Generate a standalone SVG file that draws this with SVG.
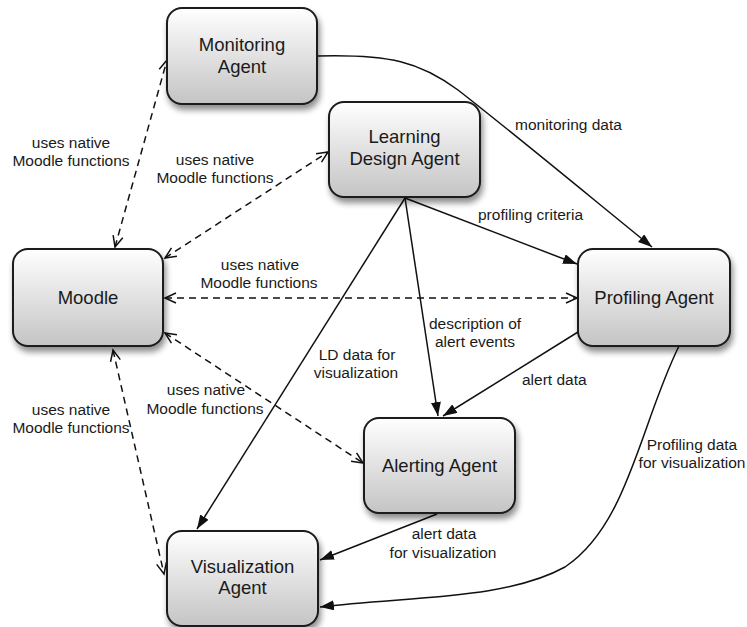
<svg xmlns="http://www.w3.org/2000/svg" width="747" height="627" viewBox="0 0 747 627">
<style>
.node rect{fill:url(#g);stroke:#1a1a1a;stroke-width:2;filter:url(#sh)}
.node text{font-family:"Liberation Sans",Arial,sans-serif;font-size:18.5px;fill:#1a1a1a;text-anchor:middle}
.lbl{font-family:"Liberation Sans",Arial,sans-serif;font-size:15.5px;fill:#1a1a1a}
.c{text-anchor:middle}
.solid{fill:none;stroke:#111;stroke-width:1.5;marker-end:url(#ah)}
.dash{fill:none;stroke:#111;stroke-width:1.5;stroke-dasharray:7 5;marker-start:url(#oa);marker-end:url(#oa)}
</style>
<defs>
<linearGradient id="g" x1="0" y1="0" x2="0" y2="1">
<stop offset="0" stop-color="#ffffff"/>
<stop offset="1" stop-color="#c4c4c4"/>
</linearGradient>
<filter id="sh" x="-20%" y="-20%" width="150%" height="160%">
<feGaussianBlur in="SourceAlpha" stdDeviation="3"/>
<feOffset dx="2" dy="5" result="b"/>
<feComponentTransfer><feFuncA type="linear" slope="0.45"/></feComponentTransfer>
<feMerge><feMergeNode/><feMergeNode in="SourceGraphic"/></feMerge>
</filter>
<marker id="ah" viewBox="0 0 14 10" refX="14" refY="5" markerWidth="14" markerHeight="10" markerUnits="userSpaceOnUse" orient="auto">
<path d="M0,0 L14,5 L0,10 z" fill="#111"/>
</marker>
<marker id="oa" viewBox="-1 -1 14 12" refX="11" refY="5" markerWidth="14" markerHeight="12" markerUnits="userSpaceOnUse" orient="auto-start-reverse">
<path d="M0,0 L11,5 L0,10" fill="none" stroke="#111" stroke-width="1.5"/>
</marker>
</defs>
<rect width="747" height="627" fill="#fff"/>

<g id="connectors">
<path class="dash" d="M115,247 L167,60"/>
<path class="dash" d="M165,258 L328,152"/>
<path class="dash" d="M165,298 L577,298"/>
<path class="dash" d="M165,333 L363,463"/>
<path class="dash" d="M113,350 L164,574"/>
<path class="solid" d="M317,56 C390,54 420,62 458,90 C522,140 600,205 652,247"/>
<path class="solid" d="M405,198 L577,264"/>
<path class="solid" d="M405,198 L438,416"/>
<path class="solid" d="M405,198 L197,529"/>
<path class="solid" d="M578,332 L443,416"/>
<path class="solid" d="M437,514 L320,560"/>
<path class="solid" d="M679,346 C640,425 628,525 565,567 C505,600 410,596 320,607"/>
</g>

<g id="labels">
<text class="lbl c" x="71" y="148">uses native</text>
<text class="lbl c" x="71" y="166">Moodle functions</text>
<text class="lbl c" x="215" y="165">uses native</text>
<text class="lbl c" x="215" y="183">Moodle functions</text>
<text class="lbl c" x="260" y="270">uses native</text>
<text class="lbl c" x="259" y="288">Moodle functions</text>
<text class="lbl c" x="206" y="395">uses native</text>
<text class="lbl c" x="205" y="414">Moodle functions</text>
<text class="lbl c" x="71" y="415">uses native</text>
<text class="lbl c" x="71" y="433">Moodle functions</text>
<text class="lbl" x="515" y="130">monitoring data</text>
<text class="lbl" x="478" y="220">profiling criteria</text>
<text class="lbl c" x="475" y="329">description of</text>
<text class="lbl c" x="475" y="347">alert events</text>
<text class="lbl c" x="357" y="360">LD data for</text>
<text class="lbl c" x="356" y="378">visualization</text>
<text class="lbl" x="522" y="385">alert data</text>
<text class="lbl c" x="444" y="539">alert data</text>
<text class="lbl c" x="443" y="558">for visualization</text>
<text class="lbl c" x="692" y="450">Profiling data</text>
<text class="lbl c" x="692" y="468">for visualization</text>
</g>

<g id="monitoring" class="node">
<rect x="167" y="8" width="150" height="96" rx="15"/>
<text x="242" y="51">Monitoring</text>
<text x="242" y="73">Agent</text>
</g>
<g id="learning-design" class="node">
<rect x="329" y="102" width="151" height="95" rx="15"/>
<text x="404.5" y="143">Learning</text>
<text x="404.5" y="165">Design Agent</text>
</g>
<g id="moodle" class="node">
<rect x="13" y="249" width="150" height="97" rx="15"/>
<text x="88" y="304">Moodle</text>
</g>
<g id="profiling" class="node">
<rect x="578" y="249" width="152" height="97" rx="15"/>
<text x="654" y="304">Profiling Agent</text>
</g>
<g id="alerting" class="node">
<rect x="364" y="418" width="151" height="95" rx="15"/>
<text x="439.5" y="472">Alerting Agent</text>
</g>
<g id="visualization" class="node">
<rect x="167" y="531" width="151" height="95" rx="15"/>
<text x="242.5" y="573">Visualization</text>
<text x="242.5" y="594">Agent</text>
</g>
</svg>
